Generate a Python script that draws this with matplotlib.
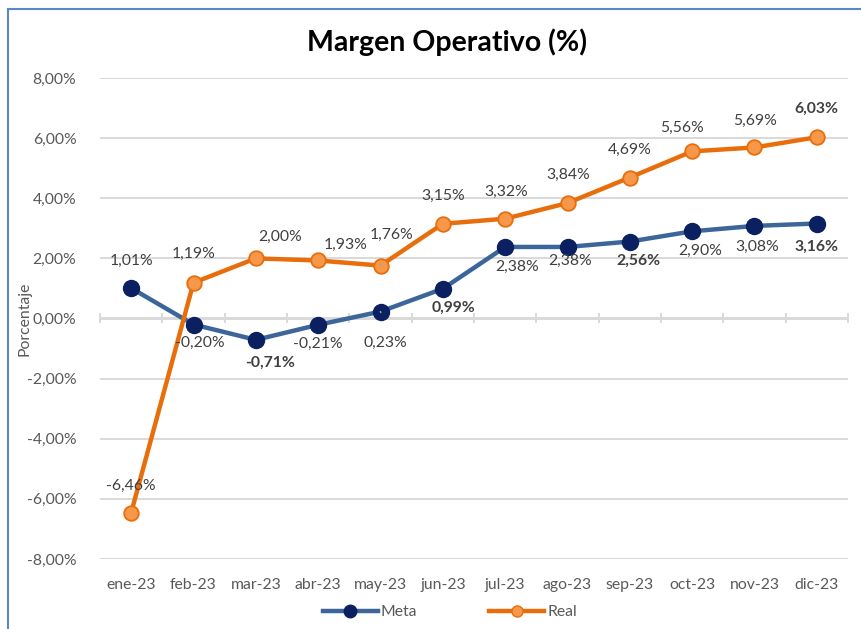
import numpy as np
import matplotlib
matplotlib.use("Agg")
import matplotlib.pyplot as plt
from matplotlib.lines import Line2D

plt.rcParams['font.family'] = ['Lato', 'DejaVu Sans']

meses = ['ene-23', 'feb-23', 'mar-23', 'abr-23', 'may-23', 'jun-23',
         'jul-23', 'ago-23', 'sep-23', 'oct-23', 'nov-23', 'dic-23']
meta = [1.01, -0.20, -0.71, -0.21, 0.23, 0.99, 2.38, 2.38, 2.56, 2.90, 3.08, 3.16]
real = [-6.46, 1.19, 2.00, 1.93, 1.76, 3.15, 3.32, 3.84, 4.69, 5.56, 5.69, 6.03]
meta_bold = [2, 5, 8, 11]
real_bold = [11]

# label offsets in pixels (dx, dy), placed by hand like in the original
meta_off = [(0, 27), (6, -18), (14, -23), (0, -19), (5, -31), (11, -19),
            (12, -20), (3, -14), (9, -19), (8, -20), (3, -21), (0, -23)]
real_off = [(0, 27), (0, 29), (24, 21), (27, 16), (11, 31), (0, 28),
            (1, 27), (1, 28), (0, 28), (-10, 23), (1, 27), (0, 28)]

def pct(v):
    return f"{v:.2f}%".replace('.', ',')

fig = plt.figure(figsize=(8.61, 6.29), dpi=100)
ax = fig.add_axes([100/861, 1-559/629, 748/861, 481/629])

x = np.arange(len(meses))
c_meta, c_meta_mk = '#3C6699', '#0B2060'
c_real, c_real_mk = '#E86E0C', '#F7974A'
fs = 11.3

ax.plot(x, meta, color=c_meta, lw=3.2, marker='o', ms=11.5,
        mfc=c_meta_mk, mec=c_meta_mk, zorder=3, label='Meta')
ax.plot(x, real, color=c_real, lw=3.2, marker='o', ms=10.5,
        mfc=c_real_mk, mec=c_real, mew=1.3, zorder=4, label='Real')

for i, v in enumerate(meta):
    dx, dy = meta_off[i]
    ax.annotate(pct(v), (x[i], v), xytext=(dx, dy), textcoords='offset pixels',
                ha='center', va='center', fontsize=fs, color='#404040',
                fontweight='bold' if i in meta_bold else 'normal', zorder=5)
for i, v in enumerate(real):
    dx, dy = real_off[i]
    ax.annotate(pct(v), (x[i], v), xytext=(dx, dy), textcoords='offset pixels',
                ha='center', va='center', fontsize=fs, color='#404040',
                fontweight='bold' if i in real_bold else 'normal', zorder=5)

# leader lines for may-23 labels
for vals, (dx, dy) in ((real, (6, 17)), (meta, (3, -13))):
    p0 = ax.transData.transform((x[4], vals[4]))
    pts = ax.transData.inverted().transform([p0 + np.array([0, np.sign(dy) * 2]),
                                              p0 + np.array([dx, dy])])
    ax.plot(pts[:, 0], pts[:, 1], color='#A6A6A6', lw=1, zorder=6)

ax.set_xlim(-0.5, len(meses) - 0.5)
ax.set_ylim(-8, 8)
ax.set_yticks(np.arange(-8, 8.1, 2))
ax.set_yticklabels([pct(t) for t in np.arange(-8, 8.1, 2)])
ax.set_xticks(x)
ax.set_xticklabels(meses)
ax.tick_params(axis='both', length=0, labelsize=fs, labelcolor='#595959')
ax.tick_params(axis='x', pad=14)
ax.tick_params(axis='y', pad=17)
ax.grid(axis='y', color='#D9D9D9', lw=1.4)
ax.set_axisbelow(True)
for s in ax.spines.values():
    s.set_visible(False)

# zero line with category tick marks
sec = ax.secondary_xaxis(0.5)
sec.set_xticks(np.arange(-0.5, len(meses), 1))
sec.tick_params(direction='inout', length=7, width=1.4, color='#D9D9D9',
                labelbottom=False, labeltop=False)
sec.spines['top'].set_color('#D9D9D9')
sec.spines['top'].set_linewidth(1.4)
sec.spines['bottom'].set_visible(False)
sec.set_xticklabels([])

ax.set_ylabel('Porcentaje', fontsize=fs, color='#595959')
ax.yaxis.set_label_coords(-0.091, 0.5)

fig.text(447/861, 1-42/629, 'Margen Operativo (%)', ha='center', va='center',
         fontsize=20.5, fontweight='bold', color='black')

fig.legend(handles=[Line2D([0], [0], color=c_meta, lw=3.2, marker='o', ms=9,
                           mfc=c_meta_mk, mec=c_meta_mk),
                    Line2D([0], [0], color=c_real, lw=3.2, marker='o', ms=8,
                           mfc=c_real_mk, mec=c_real)],
           labels=['Meta', 'Real'], loc='center', bbox_to_anchor=(450/861, 1-612/629),
           ncol=2, frameon=False, fontsize=fs, handlelength=3.5,
           columnspacing=4.6, handletextpad=0.2, labelcolor='#595959')

# outer frame (left and top edges only)
fig.add_artist(Line2D([8/861, 8/861], [0, 1-9/629], color='#5B87C9', lw=1.5))
fig.add_artist(Line2D([8/861, 1], [1-9/629, 1-9/629], color='#5B87C9', lw=1.5))

fig.savefig('out.png', dpi=100)
